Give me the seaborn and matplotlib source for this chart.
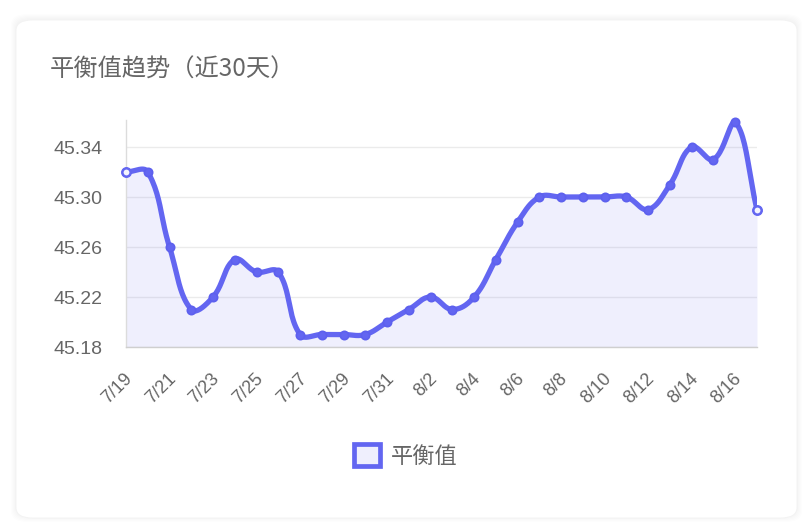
import numpy as np
import pandas as pd
import matplotlib
matplotlib.use("Agg")
import matplotlib.pyplot as plt
import matplotlib.transforms as mtrans
from matplotlib.patches import FancyBboxPatch, Patch
import seaborn as sns

# data
DATES = ["7/19", "7/20", "7/21", "7/22", "7/23", "7/24", "7/25", "7/26", "7/27", "7/28",
         "7/29", "7/30", "7/31", "8/1", "8/2", "8/3", "8/4", "8/5", "8/6", "8/7",
         "8/8", "8/9", "8/10", "8/11", "8/12", "8/13", "8/14", "8/15", "8/16", "8/17"]
VALUES = [45.32, 45.32, 45.26, 45.21, 45.22, 45.25, 45.24, 45.24, 45.19, 45.19,
          45.19, 45.19, 45.20, 45.21, 45.22, 45.21, 45.22, 45.25, 45.28, 45.30,
          45.30, 45.30, 45.30, 45.30, 45.29, 45.31, 45.34, 45.33, 45.36, 45.29]
TICK_LABELS = DATES[::2]
Y_TICKS = [45.18, 45.22, 45.26, 45.30, 45.34]
TITLE = "平衡值趋势（近30天）"
SERIES = "平衡值"

LINE = "#6366f1"
FILL = (99 / 255, 102 / 255, 241 / 255, 0.1)
GREY = "#666666"
CJK = ["Noto Sans CJK SC", "DejaVu Sans"]

W, H = 812, 532
AX_POS = [126 / W, 1 - 347 / H, 631 / W, 227 / H]
YLIM = (45.18, 45.3616)


def smooth(xs, ys, sx, sy, ylo, yhi, tension=0.4, steps=24):
    # chart.js style bezier spline, computed in pixel space
    px = np.asarray(xs, float) * sx
    py = np.asarray(ys, float) * sy
    n = len(px)
    cps = []
    for i in range(n):
        a = i - 1 if i > 0 else i
        b = i + 1 if i < n - 1 else i
        d01 = np.hypot(px[i] - px[a], py[i] - py[a])
        d12 = np.hypot(px[b] - px[i], py[b] - py[i])
        tot = d01 + d12
        s01 = d01 / tot if tot else 0
        s12 = d12 / tot if tot else 0
        dx, dy = px[b] - px[a], py[b] - py[a]
        p = [px[i] - tension * s01 * dx, py[i] - tension * s01 * dy]
        q = [px[i] + tension * s12 * dx, py[i] + tension * s12 * dy]
        for c in (p, q):
            c[1] = min(max(c[1], ylo * sy), yhi * sy)
            c[0] = min(max(c[0], px[0]), px[-1])
        cps.append((p, q))
    outx, outy = [], []
    t = np.linspace(0, 1, steps)
    for i in range(n - 1):
        p0 = np.array([px[i], py[i]])
        p1 = np.array(cps[i][1])
        p2 = np.array(cps[i + 1][0])
        p3 = np.array([px[i + 1], py[i + 1]])
        pts = ((1 - t) ** 3)[:, None] * p0 + (3 * (1 - t) ** 2 * t)[:, None] * p1 \
            + (3 * (1 - t) * t ** 2)[:, None] * p2 + (t ** 3)[:, None] * p3
        outx += list(pts[:, 0] / sx)
        outy += list(pts[:, 1] / sy)
    return np.array(outx), np.array(outy)


sns.set_theme(style="white")
plt.rcParams["font.family"] = ["Liberation Sans", "DejaVu Sans"]

fig = plt.figure(figsize=(W / 100, H / 100), dpi=100)
fig.patch.set_facecolor("white")

# card with a soft shadow
card = dict(boxstyle="round,pad=0,rounding_size=0.02", transform=fig.transFigure, zorder=-10)
for k in range(5):
    d = (k + 1) * 1.0
    fig.patches.append(FancyBboxPatch((16 / W - d / W, 14 / H - d / H + 1 / H),
                                      781 / W + 2 * d / W, 498 / H + 2 * d / H,
                                      fc="#000000", ec="none", alpha=0.009, **card))
fig.patches.append(FancyBboxPatch((16 / W, 14 / H), 781 / W, 498 / H,
                                  fc="white", ec="#f2f2f2", lw=0.6, **card))

ax = fig.add_axes(AX_POS)
ax.set_facecolor("none")
ax.set_zorder(5)

x = np.arange(len(VALUES))
sx = W * AX_POS[2] / (len(VALUES) - 1)
sy = H * AX_POS[3] / (YLIM[1] - YLIM[0])
cx, cy = smooth(x, VALUES, sx, sy, YLIM[0], YLIM[1])
curve = pd.DataFrame({"x": cx, "y": cy})
pts = pd.DataFrame({"x": x, "y": VALUES})
ends = pts.iloc[[0, -1]]

ax.fill_between(cx, cy, YLIM[0], color=FILL, lw=0, zorder=1)
sns.lineplot(data=curve, x="x", y="y", sort=False, color=LINE, lw=3.8, ax=ax, zorder=3,
             solid_capstyle="round", solid_joinstyle="round")
sns.scatterplot(data=pts, x="x", y="y", ax=ax, s=36, color=LINE, edgecolor="#5d60ee",
                linewidth=1.2, zorder=4, clip_on=False)
sns.scatterplot(data=ends, x="x", y="y", ax=ax, s=36, color="#f4f4fe", edgecolor=LINE,
                linewidth=1.8, zorder=5, clip_on=False)

ax.set_xlim(0, len(VALUES) - 1)
ax.set_ylim(*YLIM)
ax.set_xticks(x[::2])
ax.set_xticklabels(TICK_LABELS, rotation=45, ha="right", va="center",
                   rotation_mode="anchor")
ax.set_yticks(Y_TICKS)
ax.set_yticklabels([f"{v:.2f}" for v in Y_TICKS])
ax.set_xlabel("")
ax.set_ylabel("")

ax.yaxis.grid(True, color="#ebebeb", lw=1, zorder=0)
ax.xaxis.grid(False)
ax.tick_params(axis="y", length=11, width=1, color="#ebebeb", pad=6,
               labelsize=14, labelcolor=GREY)
ax.tick_params(axis="x", length=0, pad=21, labelsize=13, labelcolor=GREY)
shift = mtrans.ScaledTranslation(4 / 100, 0, fig.dpi_scale_trans)
for lab in ax.get_xticklabels():
    lab.set_transform(lab.get_transform() + shift)
ax.spines["top"].set_visible(False)
ax.spines["right"].set_visible(False)
ax.spines["left"].set_color("#dcdcdc")
ax.spines["bottom"].set_color("#cfcfcf")
ax.spines["left"].set_linewidth(1)
ax.spines["bottom"].set_linewidth(1)

fig.text(50 / W, 1 - 70 / H, TITLE, family=CJK, fontsize=17.5, color=GREY, va="center")

handle = Patch(facecolor=FILL, edgecolor=LINE, linewidth=3.4)
fig.legend([handle], [SERIES], loc="center", bbox_to_anchor=(406 / W, 1 - 456 / H),
           frameon=False, handlelength=1.15, handleheight=1.15, handletextpad=0.5,
           prop={"family": CJK, "size": 16}, labelcolor=GREY)

fig.savefig("out.png", dpi=100)
